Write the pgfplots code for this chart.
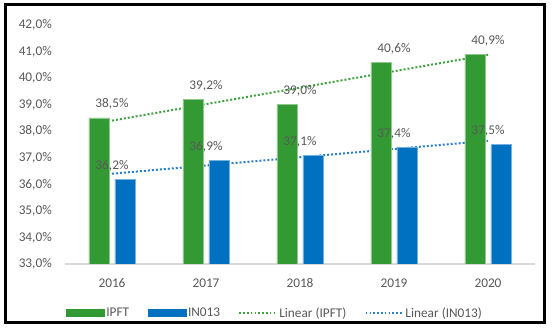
\documentclass[border=0pt]{standalone}
\usepackage{pgfplots}
\pgfplotsset{compat=1.18}
\usepackage{fontspec}
\setmainfont{Carlito}
\definecolor{ipft}{HTML}{339933}
\definecolor{inb}{HTML}{0070C0}
\definecolor{trg}{HTML}{3FA23F}
\definecolor{trb}{HTML}{2A7FCC}
\definecolor{txt}{HTML}{595959}
\definecolor{axl}{HTML}{D9D9D9}
\newcommand{\cf}{\fontsize{13.3bp}{16bp}\selectfont}
\begin{document}
\begin{tikzpicture}
\fill[white] (0,0) rectangle (554bp,334bp);
\begin{axis}[
  at={(65bp,70bp)}, anchor=south west,
  scale only axis, width=470bp, height=239bp,
  xmin=-0.5, xmax=4.5, ymin=33, ymax=42,
  xtick={0,1,2,3,4}, xticklabels={2016,2017,2018,2019,2020},
  ytick={33,34,...,42},
  /pgf/number format/assume math mode=true,
  yticklabel={\pgfmathprintnumber[fixed,fixed zerofill,precision=1,use comma]{\tick}\%},
  axis x line*=bottom, axis y line*=left,
  x axis line style={draw=axl, line width=1.5bp, -},
  y axis line style={draw=none},
  major tick length=0pt,
  tick style={draw=none},
  ticklabel style={font=\cf, text=txt},
  yticklabel style={inner sep=0pt, anchor=east, xshift=-13bp},
  xticklabel style={inner sep=0pt, anchor=base, yshift=-23bp},
  every node near coord/.append style={anchor=base, inner sep=0pt, yshift=10bp, font=\cf, text=txt},
  legend columns=4,
  legend style={draw=none, fill=none, inner sep=0pt, outer sep=0pt,
    at={(axis description cs:0.002,-0.205)}, anchor=west, font=\cf, text=txt,
    /tikz/every even column/.append style={column sep=16.5bp}},
]
\addplot[forget plot, color=trg, line width=2bp, dash pattern=on 2bp off 2bp] coordinates {(0,38.40) (4,40.88)};
\addplot[forget plot, color=trb, line width=2bp, dash pattern=on 2bp off 2bp] coordinates {(0,36.40) (4,37.64)};
\addplot[forget plot, ybar, bar width=20bp, bar shift=-13bp, fill=ipft, draw=ipft!55!white, line width=0.8bp,
  nodes near coords={\pgfmathprintnumber[fixed,fixed zerofill,precision=1,use comma]{\pgfplotspointmeta}\%}]
  coordinates {(0,38.5) (1,39.2) (2,39.0) (3,40.6) (4,40.9)};
\addplot[forget plot, ybar, bar width=20bp, bar shift=13bp, fill=inb, draw=inb!55!white, line width=0.8bp,
  nodes near coords={\pgfmathprintnumber[fixed,fixed zerofill,precision=1,use comma]{\pgfplotspointmeta}\%}]
  coordinates {(0,36.2) (1,36.9) (2,37.1) (3,37.4) (4,37.5)};
\addlegendimage{legend image code/.code={\fill[ipft] (0bp,-3.5bp) rectangle (38bp,3.5bp);}}
\addlegendentry{IPFT}
\addlegendimage{legend image code/.code={\fill[inb] (0bp,-3.5bp) rectangle (38bp,3.5bp);}}
\addlegendentry{IN013}
\addlegendimage{legend image code/.code={\draw[trg, line width=1.6bp, dash pattern=on 1.6bp off 2.2bp] (0bp,0bp) -- (37bp,0bp);}}
\addlegendentry{Linear (IPFT)}
\addlegendimage{legend image code/.code={\draw[trb, line width=1.6bp, dash pattern=on 1.6bp off 2.2bp] (0bp,0bp) -- (37bp,0bp);}}
\addlegendentry{Linear (IN013)}
\end{axis}
\draw[black, line width=3bp] (5.5bp,11bp) rectangle (544bp,329bp);
\end{tikzpicture}
\end{document}
